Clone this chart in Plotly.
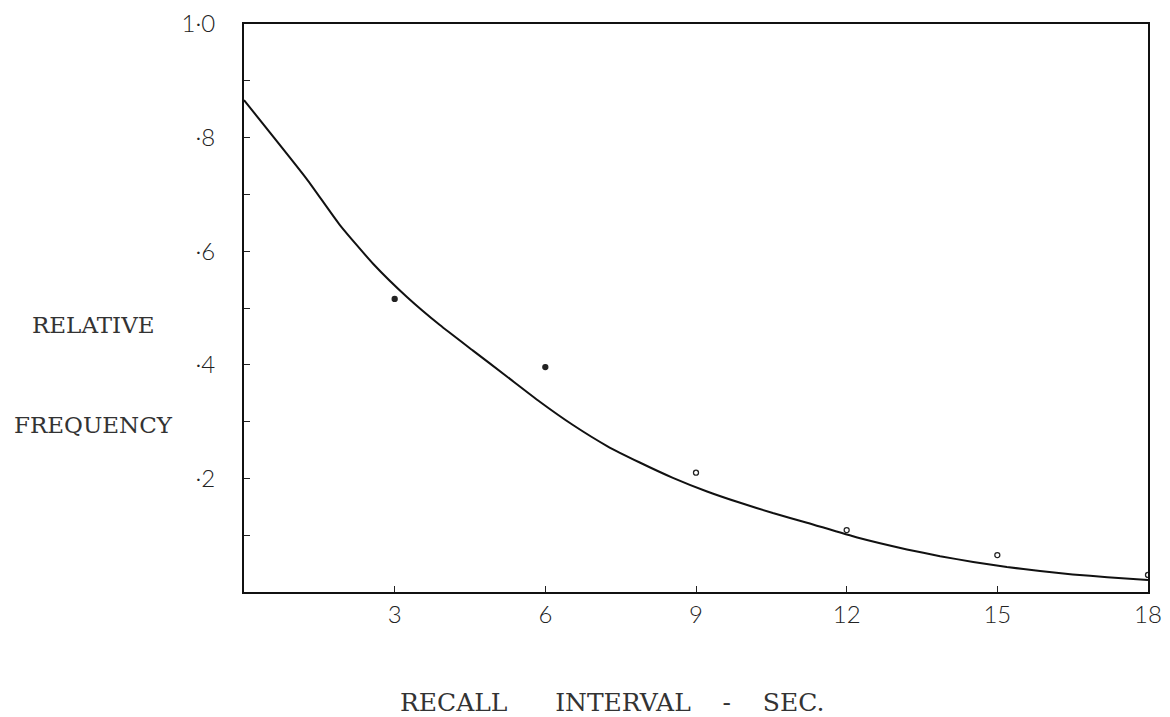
import plotly.graph_objects as go

# Observed data (relative frequency of correct recall)
interval_sec = [3, 6, 9, 12, 15, 18]
rel_freq = [0.516, 0.396, 0.21, 0.109, 0.065, 0.030]
point_symbols = ["circle", "circle", "circle-open", "circle-open", "circle-open", "circle-open"]

# Fitted curve, points
curve_x = [0, 1.25, 1.91, 2.57, 3.25, 3.90, 4.56, 5.24, 5.89, 6.55, 7.23, 7.88,
           8.54, 9.22, 9.88, 10.53, 11.21, 12.21, 13.20, 13.86, 14.52, 15.19, 15.85,
           16.50, 17.19, 18]
curve_y = [0.866, 0.727, 0.646, 0.578, 0.519, 0.470, 0.425, 0.379, 0.335, 0.294,
           0.257, 0.228, 0.201, 0.177, 0.157, 0.139, 0.122, 0.096, 0.075, 0.063, 0.053,
           0.044, 0.037, 0.031, 0.026, 0.021]

y_tickvals = [0.2, 0.4, 0.6, 0.8, 1.0]
y_ticktext = ["·2", "·4", "·6", "·8", "1·0"]
y_minor_tickvals = [0.1, 0.3, 0.5, 0.7, 0.9]
x_tickvals = [3, 6, 9, 12, 15, 18]
x_ticktext = ["3", "6", "9", "12", "15", "18"]

hand_font = dict(family="Lato", size=24, color="#222", weight=300)
side_font = dict(family="DejaVu Serif", size=23, color="#333")
title_font = dict(family="DejaVu Serif", size=25, color="#333")
nb = "\u00a0"

fig = go.Figure()
fig.add_trace(go.Scatter(
    x=curve_x, y=curve_y, mode="lines",
    line=dict(color="#111", width=2, shape="spline", smoothing=0.5),
    showlegend=False, hoverinfo="skip"))
fig.add_trace(go.Scatter(
    x=interval_sec, y=rel_freq, mode="markers",
    marker=dict(symbol=point_symbols, size=5, color="#222",
                line=dict(color="#222", width=1.3)),
    showlegend=False))

fig.update_layout(
    width=1162, height=709,
    margin=dict(l=236, r=22, t=16, b=125, autoexpand=False),
    paper_bgcolor="white", plot_bgcolor="white",
    xaxis=dict(range=[0, 18], showgrid=False, zeroline=False, automargin=False,
               showline=True, linewidth=2, linecolor="#111", mirror=True,
               tickvals=x_tickvals, ticktext=x_ticktext,
               ticks="inside", ticklen=6, tickwidth=1.2, tickcolor="#222",
               tickfont=hand_font, ticklabelstandoff=0),
    yaxis=dict(range=[0, 1.0], showgrid=False, zeroline=False, automargin=False,
               showline=True, linewidth=2, linecolor="#111", mirror=True,
               tickvals=y_tickvals, ticktext=y_ticktext,
               ticks="inside", ticklen=6, tickwidth=1.2, tickcolor="#222",
               minor=dict(tickvals=y_minor_tickvals, ticks="inside",
                          ticklen=6, tickwidth=1.2, tickcolor="#222"),
               tickfont=hand_font, ticklabelstandoff=22),
    annotations=[
        dict(text="RELATIVE", xref="paper", yref="paper", x=-0.0962, y=0.47,
             xanchor="right", yanchor="middle", showarrow=False, font=side_font),
        dict(text="FREQUENCY", xref="paper", yref="paper", x=-0.0763, y=0.294,
             xanchor="right", yanchor="middle", showarrow=False, font=side_font),
        dict(text="RECALL" + nb * 6 + "INTERVAL" + nb * 4 + "-" + nb * 4 + "SEC.",
             xref="paper", yref="paper", x=0.407, y=-0.195,
             xanchor="center", yanchor="middle", showarrow=False, font=title_font),
    ],
)

fig.write_html("out.html")
